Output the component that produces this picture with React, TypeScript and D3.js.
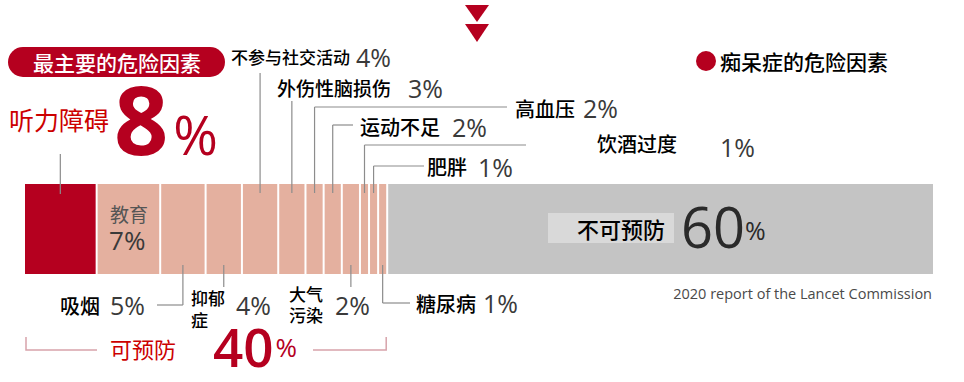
import React from 'react';
import * as d3 from 'd3';

const categories = ['听力障碍', '教育', '吸烟', '抑郁症', '不参与社交活动', '外伤性脑损伤', '高血压', '运动不足', '大气污染', '饮酒过度', '肥胖', '糖尿病', '不可预防'];
const values = [8, 7, 5, 4, 4, 3, 2, 2, 2, 1, 1, 1, 60];
const kinds = ['main', 'prev', 'prev', 'prev', 'prev', 'prev', 'prev', 'prev', 'prev', 'prev', 'prev', 'prev', 'non'];
const preventableTotal = 40;

const W = 964, H = 382;
const RED = '#b5001f';
const PINK = '#e4b09f';
const GRAY = '#c4c4c4';
const LINE = '#8c8c8c';
const PCT = '#3a3a3a';
const CJK = '"Noto Sans CJK SC", sans-serif';
const NUM = '"Open Sans", "Noto Sans", sans-serif';

// annotation layout per category (label placement only)
type Ann = { side: 'top' | 'bottom'; lineEnd: number; hx?: number; lines: string[]; lx: number; ly: number; fs: number; px: number; py: number; lh?: number };
const ann: Record<string, Ann> = {
  '不参与社交活动': { side: 'top', lineEnd: 73, lines: ['不参与社交活动'], lx: 231, ly: 56, fs: 17, px: 356, py: 57 },
  '外伤性脑损伤': { side: 'top', lineEnd: 101, lines: ['外伤性脑损伤'], lx: 277, ly: 87, fs: 19, px: 408, py: 88 },
  '高血压': { side: 'top', lineEnd: 107, hx: 507, lines: ['高血压'], lx: 515, ly: 108, fs: 20, px: 583, py: 108 },
  '运动不足': { side: 'top', lineEnd: 125, hx: 353, lines: ['运动不足'], lx: 360, ly: 126, fs: 20, px: 452, py: 127 },
  '饮酒过度': { side: 'top', lineEnd: 145, hx: 526, lines: ['饮酒过度'], lx: 597, ly: 143, fs: 20, px: 720, py: 147 },
  '肥胖': { side: 'top', lineEnd: 166, hx: 424, lines: ['肥胖'], lx: 427, ly: 166, fs: 20, px: 478, py: 167 },
  '吸烟': { side: 'bottom', lineEnd: 305, hx: 157, lines: ['吸烟'], lx: 60, ly: 305, fs: 20, px: 110, py: 305 },
  '抑郁症': { side: 'bottom', lineEnd: 287, lines: ['抑郁', '症'], lx: 191, ly: 297, fs: 17, px: 236, py: 305, lh: 22 },
  '大气污染': { side: 'bottom', lineEnd: 287, lines: ['大气', '污染'], lx: 289, ly: 293, fs: 17, px: 335, py: 305, lh: 21 },
  '糖尿病': { side: 'bottom', lineEnd: 303, hx: 410, lines: ['糖尿病'], lx: 416, ly: 303, fs: 20, px: 483, py: 303 },
};

export default function App() {
  const x = d3.scaleLinear().domain([0, 100]).range([25, 933]);
  const barTop = 184, barBot = 274;
  const cum = d3.cumsum(values);
  const segs = categories.map((c, i) => {
    const c0 = i === 0 ? 0 : cum[i - 1];
    const c1 = cum[i];
    const x0 = x(c0);
    const x1 = i === categories.length - 1 ? x(c1) : x(c1) - 2;
    return { c, v: values[i], kind: kinds[i], x0, x1, mid: (x0 + x1) / 2 };
  });
  const fill = (k: string) => (k === 'main' ? RED : k === 'prev' ? PINK : GRAY);
  const prevEnd = x(preventableTotal) - 2;

  return (
    <svg width={W} height={H} style={{ position: 'absolute', left: 0, top: 0, background: '#fff' }}>
      {/* arrow */}
      <polygon points="465,5 489,5 477,22" fill={RED} />
      <polygon points="465,24 489,24 477,42" fill={RED} />

      {/* badge */}
      <rect x={8} y={47} width={217} height={30} rx={15} fill={RED} />
      <text x={117} y={62} fill="#fff" fontSize={21} fontFamily={CJK} fontWeight={500} textAnchor="middle" dominantBaseline="central">最主要的危险因素</text>

      {/* 听力障碍 8% */}
      <text x={9} y={119} fill="#cc0000" fontSize={25} fontFamily={CJK} dominantBaseline="central">{categories[0]}</text>
      <text x={114} y={155} fill={RED} fontFamily={NUM} fontWeight={700}>
        <tspan fontSize={95}>{values[0]}</tspan>
        <tspan fontSize={54} dx={5} fontWeight={500}>%</tspan>
      </text>

      {/* legend */}
      <circle cx={706} cy={61} r={10} fill={RED} />
      <text x={720} y={61} fontSize={21} fontFamily={CJK} fontWeight={500} fill="#000" dominantBaseline="central">痴呆症的危险因素</text>

      {/* bars */}
      {segs.map((s) => (
        <rect key={s.c} x={s.x0} y={barTop} width={s.x1 - s.x0} height={barBot - barTop} fill={fill(s.kind)} />
      ))}

      {/* 听力 leader */}
      <line x1={segs[0].mid} x2={segs[0].mid} y1={154} y2={194} stroke={LINE} strokeWidth={1.2} />

      {/* 教育 inside */}
      <text x={110} y={213} fontSize={19} fontFamily={CJK} fill="#555" dominantBaseline="central">{categories[1]}</text>
      <text x={109} y={240} fontSize={26} fontFamily={NUM} fill={PCT} dominantBaseline="central">{values[1]}%</text>

      {/* annotations */}
      {segs.map((s) => {
        const a = ann[s.c];
        if (!a) return null;
        const yIn = a.side === 'top' ? barTop + 9 : barBot - 9;
        return (
          <g key={'a' + s.c}>
            <line x1={s.mid} x2={s.mid} y1={yIn} y2={a.lineEnd} stroke={LINE} strokeWidth={1.2} />
            {a.hx !== undefined && <line x1={s.mid} x2={a.hx} y1={a.lineEnd} y2={a.lineEnd} stroke={LINE} strokeWidth={1.2} />}
            {a.lines.map((t, j) => (
              <text key={j} x={a.lx} y={a.ly + j * (a.lh || 0)} fontSize={a.fs} fontFamily={CJK} fontWeight={500} fill="#000" dominantBaseline="central">{t}</text>
            ))}
            <text x={a.px} y={a.py} fontSize={25} fontFamily={NUM} fill={PCT} dominantBaseline="central">{s.v}%</text>
          </g>
        );
      })}

      {/* 不可预防 */}
      <rect x={548} y={213} width={126} height={30} fill="#d9d9d9" />
      <text x={665} y={228} fontSize={22} fontFamily={CJK} fontWeight={500} fill="#000" textAnchor="end" dominantBaseline="central">{categories[12]}</text>
      <text x={681} y={248} fill="#2a2a2a" fontFamily={NUM}>
        <tspan fontSize={56}>{values[12]}</tspan>
        <tspan fontSize={25} dy={-8}>%</tspan>
      </text>

      {/* source */}
      <text x={932} y={293} fontSize={14.5} fontFamily={NUM} fill="#4a4a4a" textAnchor="end" dominantBaseline="central">2020 report of the Lancet Commission</text>

      {/* bracket */}
      <path d={`M${x(0) + 1},337 V350 H97`} fill="none" stroke="#d7a3ab" strokeWidth={1.5} />
      <path d={`M313,350 H${prevEnd} V337`} fill="none" stroke="#d7a3ab" strokeWidth={1.5} />
      <text x={110} y={348} fontSize={22} fontFamily={CJK} fill="#cc0000" dominantBaseline="central">可预防</text>
      <text x={213} y={367} fill={RED} fontFamily={NUM} fontWeight={600}>
        <tspan fontSize={53}>{preventableTotal}</tspan>
        <tspan fontSize={26} dx={2} dy={-10} fontWeight={500}>%</tspan>
      </text>
    </svg>
  );
}
